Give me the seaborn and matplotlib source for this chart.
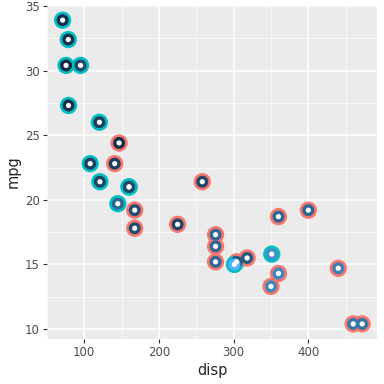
import numpy as np
import pandas as pd
import matplotlib
matplotlib.use("Agg")
import matplotlib.pyplot as plt
from matplotlib.colors import LinearSegmentedColormap
import seaborn as sns

# mtcars: disp vs mpg, ring colour = transmission, inner colour = hp
auto_disp = [258, 360, 225, 360, 146.7, 140.8, 167.6, 167.6, 275.8, 275.8, 275.8,
             472, 460, 440, 318, 304, 350, 400]
auto_mpg = [21.4, 18.7, 18.1, 14.3, 24.4, 22.8, 19.2, 17.8, 16.4, 17.3, 15.2,
            10.4, 10.4, 14.7, 15.5, 15.2, 13.3, 19.2]
auto_hp = [110, 175, 105, 245, 62, 95, 123, 123, 180, 180, 180,
           205, 215, 230, 150, 150, 245, 175]
man_disp = [160, 160, 108, 78.7, 75.7, 71.1, 79, 120.3, 95.1, 351, 145, 301, 121]
man_mpg = [21.0, 21.0, 22.8, 32.4, 30.4, 33.9, 27.3, 26.0, 30.4, 15.8, 19.7, 15.0, 21.4]
man_hp = [110, 110, 93, 66, 52, 65, 66, 91, 113, 264, 175, 335, 109]

df = pd.DataFrame({
    "disp": auto_disp + man_disp,
    "mpg": auto_mpg + man_mpg,
    "hp": auto_hp + man_hp,
    "am": ["0"] * len(auto_disp) + ["1"] * len(man_disp),
})

sns.set_style("darkgrid", {"axes.facecolor": "#EBEBEB", "grid.color": "white"})
plt.rcParams['font.family'] = ['DejaVu Sans']

fig = plt.figure(figsize=(3.84, 3.84), dpi=100)
ax = fig.add_axes([0.122, 0.117, 0.860, 0.870])

outer = {"0": "#F8766D", "1": "#00BFC4"}
grad = LinearSegmentedColormap.from_list("gg", ["#132B43", "#56B1F7"])

for am in ["0", "1"]:
    sub = df[df.am == am]
    sns.scatterplot(data=sub, x="disp", y="mpg", color=outer[am], s=155,
                    edgecolor="none", ax=ax, legend=False, zorder=3)
for am in ["0", "1"]:
    sub = df[df.am == am]
    sns.scatterplot(data=sub, x="disp", y="mpg", hue="hp", palette=grad,
                    hue_norm=(df.hp.min(), df.hp.max()), s=75,
                    edgecolor="none", ax=ax, legend=False, zorder=4)
    sns.scatterplot(data=sub, x="disp", y="mpg", color="white", s=14,
                    edgecolor="none", ax=ax, legend=False, zorder=5)

ax.set_xlim(51.1, 492)
ax.set_ylim(9.225, 35.075)
ax.set_xticks([100, 200, 300, 400])
ax.set_yticks([10, 15, 20, 25, 30, 35])
ax.set_xticks([50, 150, 250, 350, 450], minor=True)
ax.set_yticks([12.5, 17.5, 22.5, 27.5, 32.5], minor=True)
ax.grid(which="major", color="white", linewidth=1.1)
ax.grid(which="minor", color="white", linewidth=0.5)
ax.tick_params(which="major", length=3, color="#333333", labelsize=8.5,
               labelcolor="#4D4D4D", pad=2, left=True, bottom=True)
ax.tick_params(which="minor", length=0)
for sp in ax.spines.values():
    sp.set_visible(False)
ax.set_xlabel("disp", fontsize=10.5, labelpad=3)
ax.set_ylabel("mpg", fontsize=10.5, labelpad=3)

fig.savefig("out.png", dpi=100)
